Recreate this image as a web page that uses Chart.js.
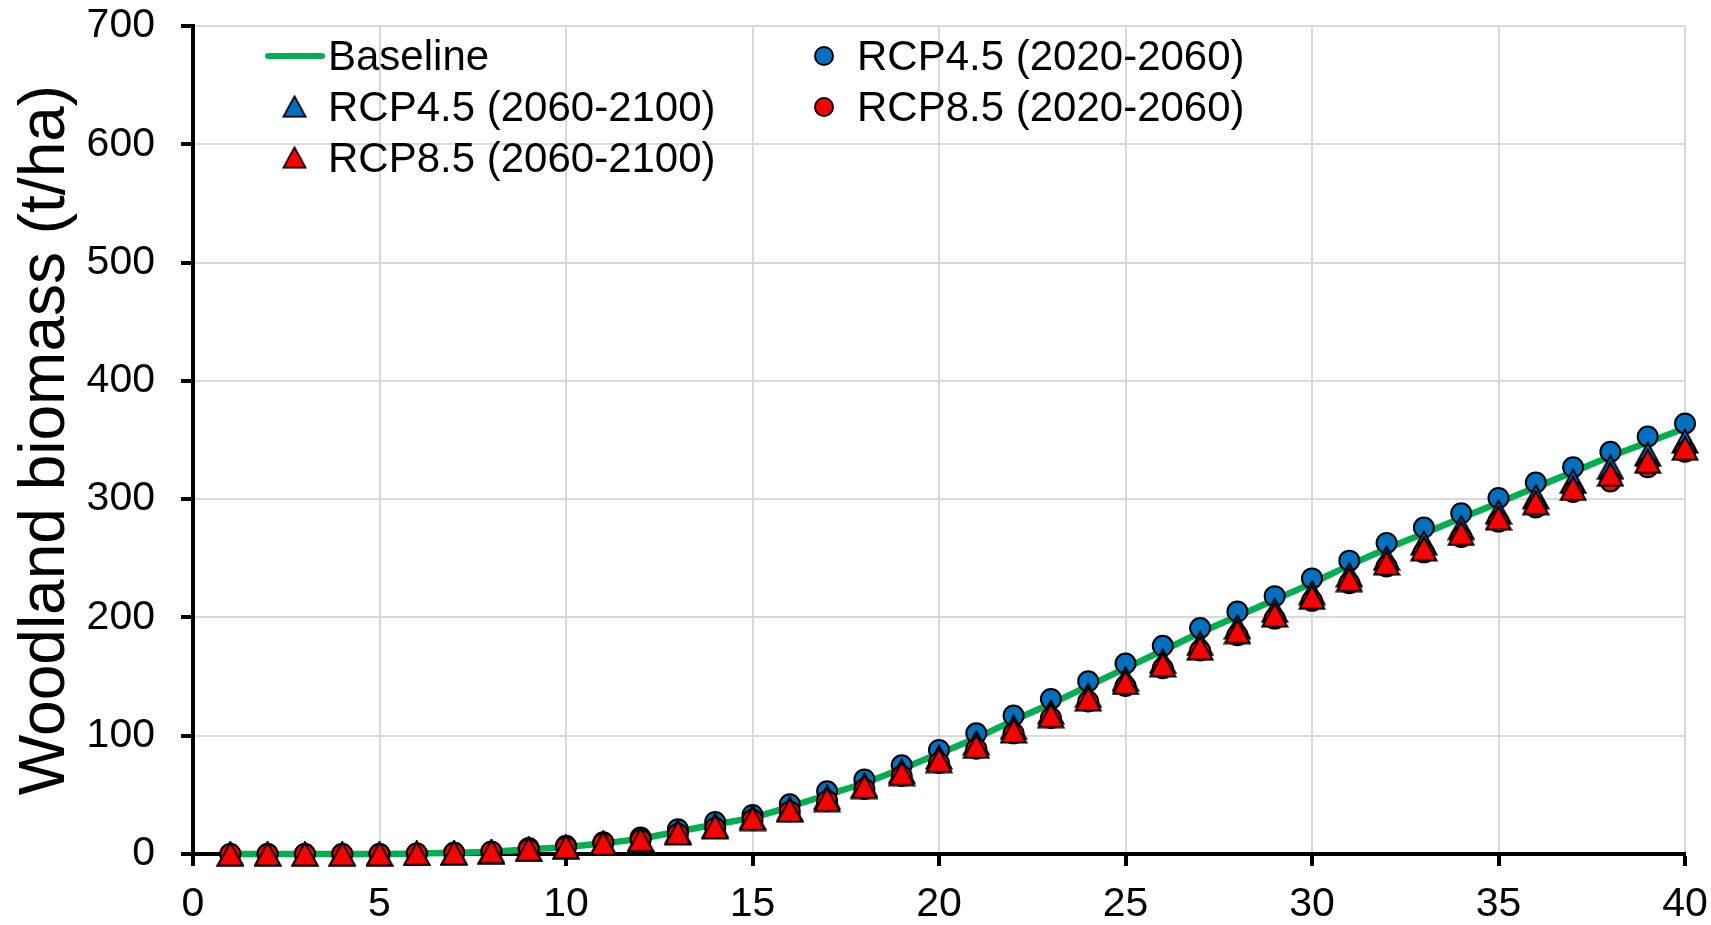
<!DOCTYPE html>
<html>
<head>
<meta charset="utf-8">
<script src="https://cdn.jsdelivr.net/npm/chart.js@4.4.1/dist/chart.umd.min.js"></script>
<style>
  html, body { margin: 0; padding: 0; background: #fff; }
  #wrap { width: 1711px; height: 925px; }
</style>
</head>
<body>
<div id="wrap"><canvas id="biomassChart" width="1711" height="925"></canvas></div>
<script>
// stand age (years)
const years = [1, 2, 3, 4, 5, 6, 7, 8, 9, 10, 11, 12, 13, 14, 15, 16, 17, 18, 19, 20,
  21, 22, 23, 24, 25, 26, 27, 28, 29, 30, 31, 32, 33, 34, 35, 36, 37, 38, 39, 40];

// woodland biomass, t/ha
const baseline = [0, 0, 0, 0, 0, 0.5, 1, 2, 4, 6, 9, 13, 19, 25, 31, 40, 50, 60, 72, 85,
  98, 113, 127, 142, 157, 172, 187, 201, 215, 229, 244, 258, 271, 284, 297, 310, 323, 336, 348, 360];
const rcp45Early = [0, 0, 0, 0, 0, 0.5, 1, 2, 5, 7, 10, 14, 21, 27, 33, 42, 53, 63, 75, 88,
  102, 117, 131, 146, 161, 176, 191, 205, 218, 233, 248, 263, 276, 288, 301, 314, 327, 340, 353, 364];
const rcp45Late = [0, 0, 0, 0, 0, 0.5, 1, 2, 4, 6, 9, 12, 19, 24, 31, 38, 48, 58, 70, 82,
  94, 107, 120, 134, 148, 163, 178, 192, 206, 221, 236, 250, 263, 276, 289, 302, 315, 327, 338, 349];
const rcp85Early = [0, 0, 0, 0, 0, 0.5, 1, 2, 4, 6, 9, 12, 17, 22, 29, 36, 45, 55, 66, 77,
  89, 102, 115, 129, 142, 157, 172, 185, 199, 214, 229, 243, 255, 268, 281, 293, 306, 315, 327, 340];
const rcp85Late = [0, 0, 0, 0, 0, 0.5, 1, 2, 4, 6, 9, 12, 18, 23, 30, 37, 46, 57, 68, 79,
  91, 104, 117, 131, 145, 160, 174, 188, 202, 217, 232, 246, 258, 271, 284, 297, 309, 321, 332, 343];

const xTicks = [0, 5, 10, 15, 20, 25, 30, 35, 40];
const yTicks = [0, 100, 200, 300, 400, 500, 600, 700];

const GREEN = "#00b050";
const BLUE = "#0070c0";
const RED = "#ff0000";
const FONT = '"Liberation Sans", Arial, sans-serif';

function toPoints(values) {
  return values.map((v, i) => ({ x: years[i], y: v }));
}

// Excel-like triangle marker, centred in its box
function triangleMarker(fill) {
  const c = document.createElement("canvas");
  c.width = 28;
  c.height = 26;
  const g = c.getContext("2d");
  g.beginPath();
  g.moveTo(14, 1.5);
  g.lineTo(26.5, 24.5);
  g.lineTo(1.5, 24.5);
  g.closePath();
  g.fillStyle = fill;
  g.fill();
  g.lineWidth = 2;
  g.strokeStyle = "#000";
  g.stroke();
  return c;
}

const blueTri = triangleMarker(BLUE);
const redTri = triangleMarker(RED);

// legend in two columns inside the plot, Excel style
const LEG_MARK_X = [295, 824];
const LEG_TEXT_X = [328, 857];
const LEG_ROW_Y = [55, 106, 157];

const cornerLegend = {
  id: "cornerLegend",
  afterDraw(chart) {
    const ctx = chart.ctx;
    ctx.save();
    ctx.font = "42px " + FONT;
    ctx.textBaseline = "alphabetic";
    ctx.textAlign = "left";
    chart.data.datasets.forEach((ds, i) => {
      const col = i % 2;
      const row = Math.floor(i / 2);
      const mx = LEG_MARK_X[col];
      const cy = LEG_ROW_Y[row];
      if (ds.showLine) {
        ctx.beginPath();
        ctx.moveTo(mx - 27, cy + 1);
        ctx.lineTo(mx + 27, cy + 1);
        ctx.strokeStyle = ds.borderColor;
        ctx.lineWidth = 6;
        ctx.lineCap = "round";
        ctx.stroke();
      } else if (ds.pointStyle === "circle") {
        ctx.beginPath();
        ctx.arc(mx, cy + 1, 9, 0, Math.PI * 2);
        ctx.fillStyle = ds.pointBackgroundColor;
        ctx.fill();
        ctx.lineWidth = 2;
        ctx.strokeStyle = "#000";
        ctx.stroke();
      } else {
        ctx.drawImage(ds.pointStyle, mx - 13, cy - 11, 25, 23);
      }
      ctx.fillStyle = "#000";
      ctx.fillText(ds.label, LEG_TEXT_X[col], cy + 15);
    });
    ctx.restore();
  },
};

const ctx = document.getElementById("biomassChart").getContext("2d");

new Chart(ctx, {
  type: "scatter",
  data: {
    datasets: [
      {
        label: "Baseline",
        data: toPoints(baseline),
        showLine: true,
        borderColor: GREEN,
        borderWidth: 6.5,
        tension: 0.4,
        pointRadius: 0,
        order: 5,
        clip: false,
      },
      {
        label: "RCP4.5 (2020-2060)",
        data: toPoints(rcp45Early),
        pointStyle: "circle",
        pointRadius: 10,
        pointBackgroundColor: BLUE,
        pointBorderColor: "#000",
        pointBorderWidth: 2,
        order: 4,
        clip: false,
      },
      {
        label: "RCP4.5 (2060-2100)",
        data: toPoints(rcp45Late),
        pointStyle: blueTri,
        pointRadius: 10,
        order: 3,
        clip: false,
      },
      {
        label: "RCP8.5 (2020-2060)",
        data: toPoints(rcp85Early),
        pointStyle: "circle",
        pointRadius: 10,
        pointBackgroundColor: RED,
        pointBorderColor: "#000",
        pointBorderWidth: 2,
        order: 2,
        clip: false,
      },
      {
        label: "RCP8.5 (2060-2100)",
        data: toPoints(rcp85Late),
        pointStyle: redTri,
        pointRadius: 10,
        order: 1,
        clip: false,
      },
    ],
  },
  options: {
    responsive: false,
    animation: false,
    events: [],
    layout: { padding: { left: 0, right: 26, top: 26, bottom: 0 } },
    plugins: {
      legend: { display: false },
      tooltip: { enabled: false },
    },
    scales: {
      x: {
        type: "linear",
        min: 0,
        max: 40,
        afterBuildTicks: (scale) => {
          scale.ticks = xTicks.map((v) => ({ value: v }));
        },
        afterFit: (scale) => {
          scale.height = 71;
          scale.paddingLeft = 0;
          scale.paddingRight = 0;
        },
        grid: {
          color: "#d9d9d9",
          lineWidth: 2,
          tickLength: 12,
          tickColor: "#000",
          tickWidth: 4,
        },
        border: { color: "#000", width: 4 },
        ticks: {
          color: "#000",
          padding: 18,
          maxRotation: 0,
          font: { family: FONT, size: 41, lineHeight: 1 },
        },
      },
      y: {
        type: "linear",
        min: 0,
        max: 700,
        afterBuildTicks: (scale) => {
          scale.ticks = yTicks.map((v) => ({ value: v }));
        },
        afterFit: (scale) => {
          scale.width = 193;
          scale.paddingTop = 0;
          scale.paddingBottom = 0;
        },
        grid: {
          color: "#d9d9d9",
          lineWidth: 2,
          tickLength: 12,
          tickColor: "#000",
          tickWidth: 4,
        },
        border: { color: "#000", width: 4 },
        title: {
          display: true,
          text: "Woodland biomass (t/ha)",
          color: "#000",
          padding: { top: 8, bottom: 4 },
          font: { family: FONT, size: 64, lineHeight: 1.2 },
        },
        ticks: {
          color: "#000",
          padding: 26,
          font: { family: FONT, size: 41, lineHeight: 1 },
        },
      },
    },
  },
  plugins: [cornerLegend],
});
</script>
</body>
</html>
